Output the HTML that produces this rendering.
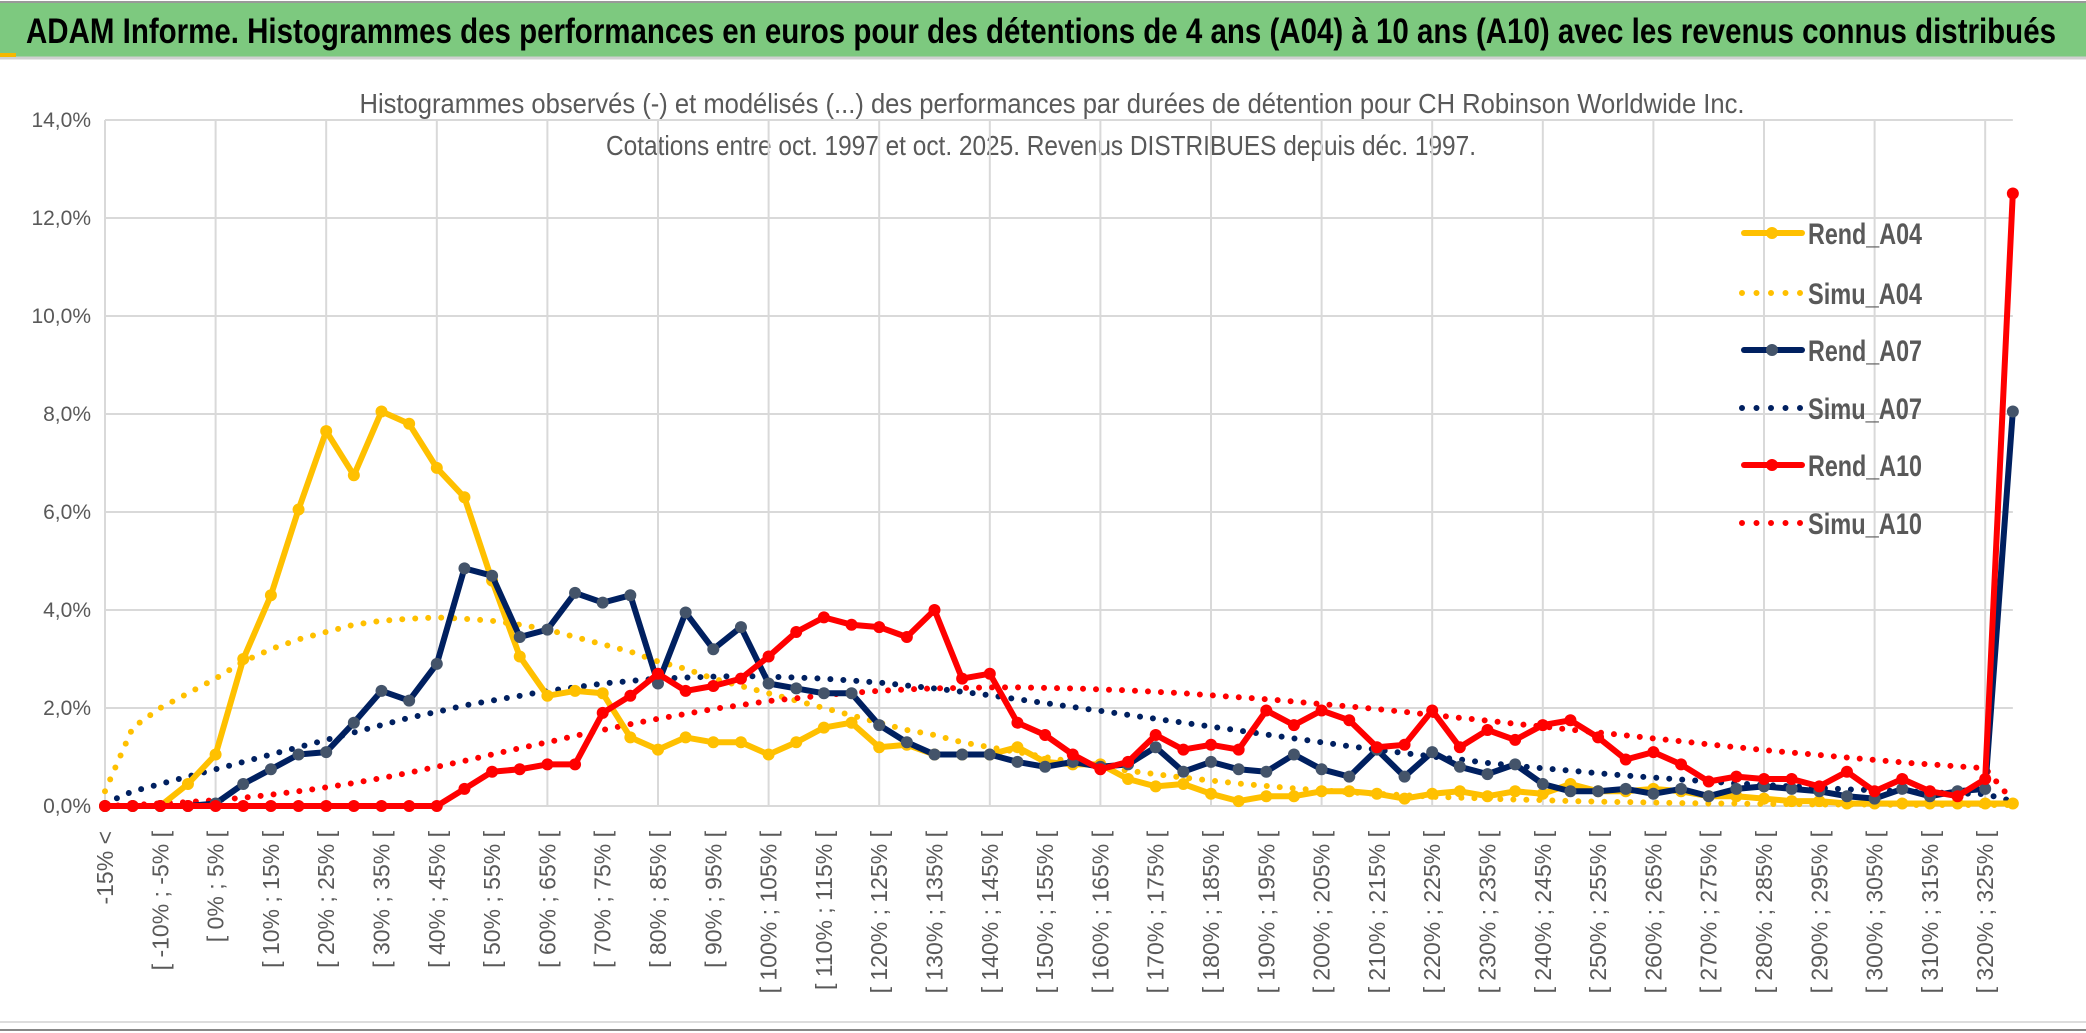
<!DOCTYPE html>
<html><head><meta charset="utf-8"><style>
html,body{margin:0;padding:0;background:#fff;width:2086px;height:1033px;overflow:hidden}
svg{display:block;font-family:"Liberation Sans Narrow","Liberation Sans",sans-serif}
</style></head><body>
<svg id="chart" width="2086" height="1033" viewBox="0 0 2086 1033">
<rect x="0" y="3" width="2086" height="54" fill="#7dc97f"/>
<line x1="0" y1="2" x2="2086" y2="2" stroke="#999" stroke-width="2"/>
<line x1="0" y1="58" x2="2086" y2="58" stroke="#d0d0d0" stroke-width="3"/>
<rect x="0" y="53" width="16" height="4" fill="#f5b800"/>
<text x="26" y="43" font-size="35" font-weight="bold" fill="#000" textLength="2030" lengthAdjust="spacingAndGlyphs">ADAM Informe. Histogrammes des performances en euros pour des détentions de 4 ans (A04) à 10 ans (A10) avec les revenus connus distribués</text>
<text x="1052" y="113" font-size="28" fill="#595959" text-anchor="middle" textLength="1385" lengthAdjust="spacingAndGlyphs">Histogrammes observés (-) et modélisés (...) des performances par durées de détention pour CH Robinson Worldwide Inc.</text>
<text x="1041" y="155" font-size="28" fill="#595959" text-anchor="middle" textLength="870" lengthAdjust="spacingAndGlyphs">Cotations entre oct. 1997 et oct. 2025. Revenus DISTRIBUES depuis déc. 1997.</text>
<g id="grid"></g><g id="series"></g><g id="axes"></g><g id="legend"></g>
<line x1="0" y1="1022" x2="2086" y2="1022" stroke="#ddd" stroke-width="2"/>
<line x1="0" y1="1030" x2="2086" y2="1030" stroke="#888" stroke-width="2"/>
</svg>
<script>
const cats=["-15% <"];
for(let a=-15;a<=325;a+=5){cats.push("[ "+a+"% ; "+(a+5)+"% [");}
cats.length=70;
const rendA04=[0,0,0,0.45,1.05,3.0,4.3,6.05,7.65,6.75,8.05,7.8,6.9,6.3,4.6,3.05,2.25,2.35,2.3,1.4,1.15,1.4,1.3,1.3,1.05,1.3,1.6,1.7,1.2,1.25,1.05,1.05,1.05,1.2,0.9,0.85,0.85,0.55,0.4,0.45,0.25,0.1,0.2,0.2,0.3,0.3,0.25,0.15,0.25,0.3,0.2,0.3,0.25,0.45,0.3,0.3,0.35,0.3,0.2,0.2,0.15,0.1,0.1,0.05,0.05,0.05,0.05,0.05,0.05,0.05];
const simuA04=[0.3,1.6,2.0,2.3,2.6,2.95,3.2,3.4,3.55,3.7,3.78,3.82,3.85,3.82,3.78,3.7,3.6,3.45,3.3,3.15,2.95,2.8,2.6,2.45,2.3,2.15,2.0,1.85,1.7,1.55,1.45,1.3,1.2,1.1,1.0,0.9,0.8,0.72,0.65,0.58,0.52,0.46,0.41,0.36,0.32,0.28,0.25,0.22,0.19,0.17,0.15,0.13,0.12,0.1,0.09,0.08,0.07,0.06,0.05,0.05,0.04,0.04,0.03,0.03,0.03,0.02,0.02,0.02,0.02,0.02];
const rendA07=[0,0,0,0,0.05,0.45,0.75,1.05,1.1,1.7,2.35,2.15,2.9,4.85,4.7,3.45,3.6,4.35,4.15,4.3,2.5,3.95,3.2,3.65,2.5,2.4,2.3,2.3,1.65,1.3,1.05,1.05,1.05,0.9,0.8,0.9,0.8,0.85,1.2,0.7,0.9,0.75,0.7,1.05,0.75,0.6,1.15,0.6,1.1,0.8,0.65,0.85,0.45,0.3,0.3,0.35,0.25,0.35,0.2,0.35,0.4,0.35,0.3,0.2,0.15,0.35,0.2,0.3,0.35,8.05];
const simuA07=[0.05,0.3,0.45,0.6,0.75,0.9,1.05,1.2,1.35,1.5,1.65,1.8,1.92,2.05,2.15,2.25,2.35,2.42,2.5,2.55,2.6,2.62,2.64,2.65,2.64,2.62,2.6,2.56,2.52,2.46,2.4,2.33,2.26,2.18,2.1,2.02,1.94,1.86,1.78,1.7,1.62,1.54,1.46,1.38,1.3,1.22,1.15,1.08,1.01,0.95,0.88,0.82,0.77,0.72,0.67,0.62,0.58,0.54,0.5,0.46,0.43,0.4,0.37,0.34,0.32,0.3,0.28,0.26,0.24,0.1];
const rendA10=[0,0,0,0,0,0,0,0,0,0,0,0,0,0.35,0.7,0.75,0.85,0.85,1.9,2.25,2.7,2.35,2.45,2.6,3.05,3.55,3.85,3.7,3.65,3.45,4.0,2.6,2.7,1.7,1.45,1.05,0.75,0.9,1.45,1.15,1.25,1.15,1.95,1.65,1.95,1.75,1.2,1.25,1.95,1.2,1.55,1.35,1.65,1.75,1.4,0.95,1.1,0.85,0.5,0.6,0.55,0.55,0.4,0.7,0.3,0.55,0.3,0.2,0.55,12.5];
const simuA10=[0,0.02,0.05,0.08,0.12,0.17,0.23,0.3,0.38,0.47,0.57,0.68,0.8,0.92,1.05,1.18,1.3,1.43,1.55,1.67,1.78,1.88,1.98,2.06,2.14,2.2,2.26,2.31,2.35,2.38,2.4,2.41,2.42,2.42,2.41,2.4,2.38,2.36,2.33,2.3,2.26,2.22,2.18,2.13,2.08,2.03,1.98,1.92,1.86,1.8,1.74,1.68,1.62,1.56,1.5,1.44,1.38,1.32,1.26,1.2,1.14,1.09,1.04,0.99,0.94,0.89,0.85,0.81,0.77,0.1];
const yTicks=[0,2,4,6,8,10,12,14];
const seriesNames=["Rend_A04","Simu_A04","Rend_A07","Simu_A07","Rend_A10","Simu_A10"];

const NS="http://www.w3.org/2000/svg";
const X0=105,DX=27.65,Y0=806,PY=49;
const xs=i=>X0+i*DX, ys=v=>Y0-v*PY;
function mk(tag,attrs,parent){const e=document.createElementNS(NS,tag);for(const k in attrs)e.setAttribute(k,attrs[k]);parent.appendChild(e);return e;}
const grid=document.getElementById('grid'),axes=document.getElementById('axes'),ser=document.getElementById('series'),leg=document.getElementById('legend');
const xEnd=xs(cats.length-1);
yTicks.forEach(t=>{
  const l=mk('line',{x1:X0,x2:xEnd,y1:ys(t),y2:ys(t),stroke:'#d9d9d9','stroke-width':2},grid);
  
  
  const tx=mk('text',{x:91,y:ys(t)+7,'font-size':21,fill:'#595959','text-anchor':'end'},axes);
  tx.textContent=t.toFixed(1).replace('.',',')+'%';
  
  
});
for(let i=0;i<cats.length;i+=4){
  const l=mk('line',{x1:xs(i),x2:xs(i),y1:ys(14),y2:ys(0),stroke:'#d9d9d9','stroke-width':2},grid);
  
  
}
for(let i=0;i<cats.length;i+=2){
  const x=xs(i)+8,y=831;
  const tx=mk('text',{x:x,y:y,'font-size':23,fill:'#595959','text-anchor':'end',transform:`rotate(-90 ${x} ${y})`,'font-family':'"Liberation Sans",sans-serif'},axes);
  tx.textContent=cats[i];
  
  
}
function pts(arr){return arr.map((v,i)=>xs(i).toFixed(1)+','+ys(v).toFixed(1)).join(' ');}
function dotted(arr,color,name){
  const p=mk('polyline',{points:pts(arr),fill:'none',stroke:color,'stroke-width':6,'stroke-dasharray':'0 13','stroke-linecap':'round'},ser);
  
  
}
function solid(arr,color,mcolor,name){
  const p=mk('polyline',{points:pts(arr),fill:'none',stroke:color,'stroke-width':6,'stroke-linejoin':'round'},ser);
  
  
  arr.forEach((v,i)=>{
    const c=mk('circle',{cx:xs(i),cy:ys(v),r:6,fill:mcolor},ser);
    
    
  });
}
dotted(simuA04,'#ffc000','simu-a04-line');
dotted(simuA07,'#002060','simu-a07-line');
dotted(simuA10,'#ff0000','simu-a10-line');
solid(rendA04,'#ffc000','#ffc000','rend-a04-line');
solid(rendA07,'#002060','#44546a','rend-a07-line');
solid(rendA10,'#ff0000','#ff0000','rend-a10-line');
const legColors=['#ffc000','#ffc000','#002060','#002060','#ff0000','#ff0000'];
const legY=[233,293,350,408,465,523];
seriesNames.forEach((n,k)=>{
  const y=legY[k];
  const g=mk('g',{},leg);
  
  
  if(k%2===0){
    mk('line',{x1:1744,x2:1802,y1:y,y2:y,stroke:legColors[k],'stroke-width':6,'stroke-linecap':'round'},g);
    mk('circle',{cx:1772,cy:y,r:6,fill:k===2?'#44546a':legColors[k]},g);
  } else {
    mk('line',{x1:1742,x2:1804,y1:y,y2:y,stroke:legColors[k],'stroke-width':6,'stroke-dasharray':'0 14.5','stroke-linecap':'round'},g);
  }
  const t=mk('text',{x:1808,y:y+11,'font-size':30,fill:'#595959','font-weight':'bold',textLength:114,lengthAdjust:'spacingAndGlyphs'},g);
  t.textContent=n;
});
</script>
</body></html>
